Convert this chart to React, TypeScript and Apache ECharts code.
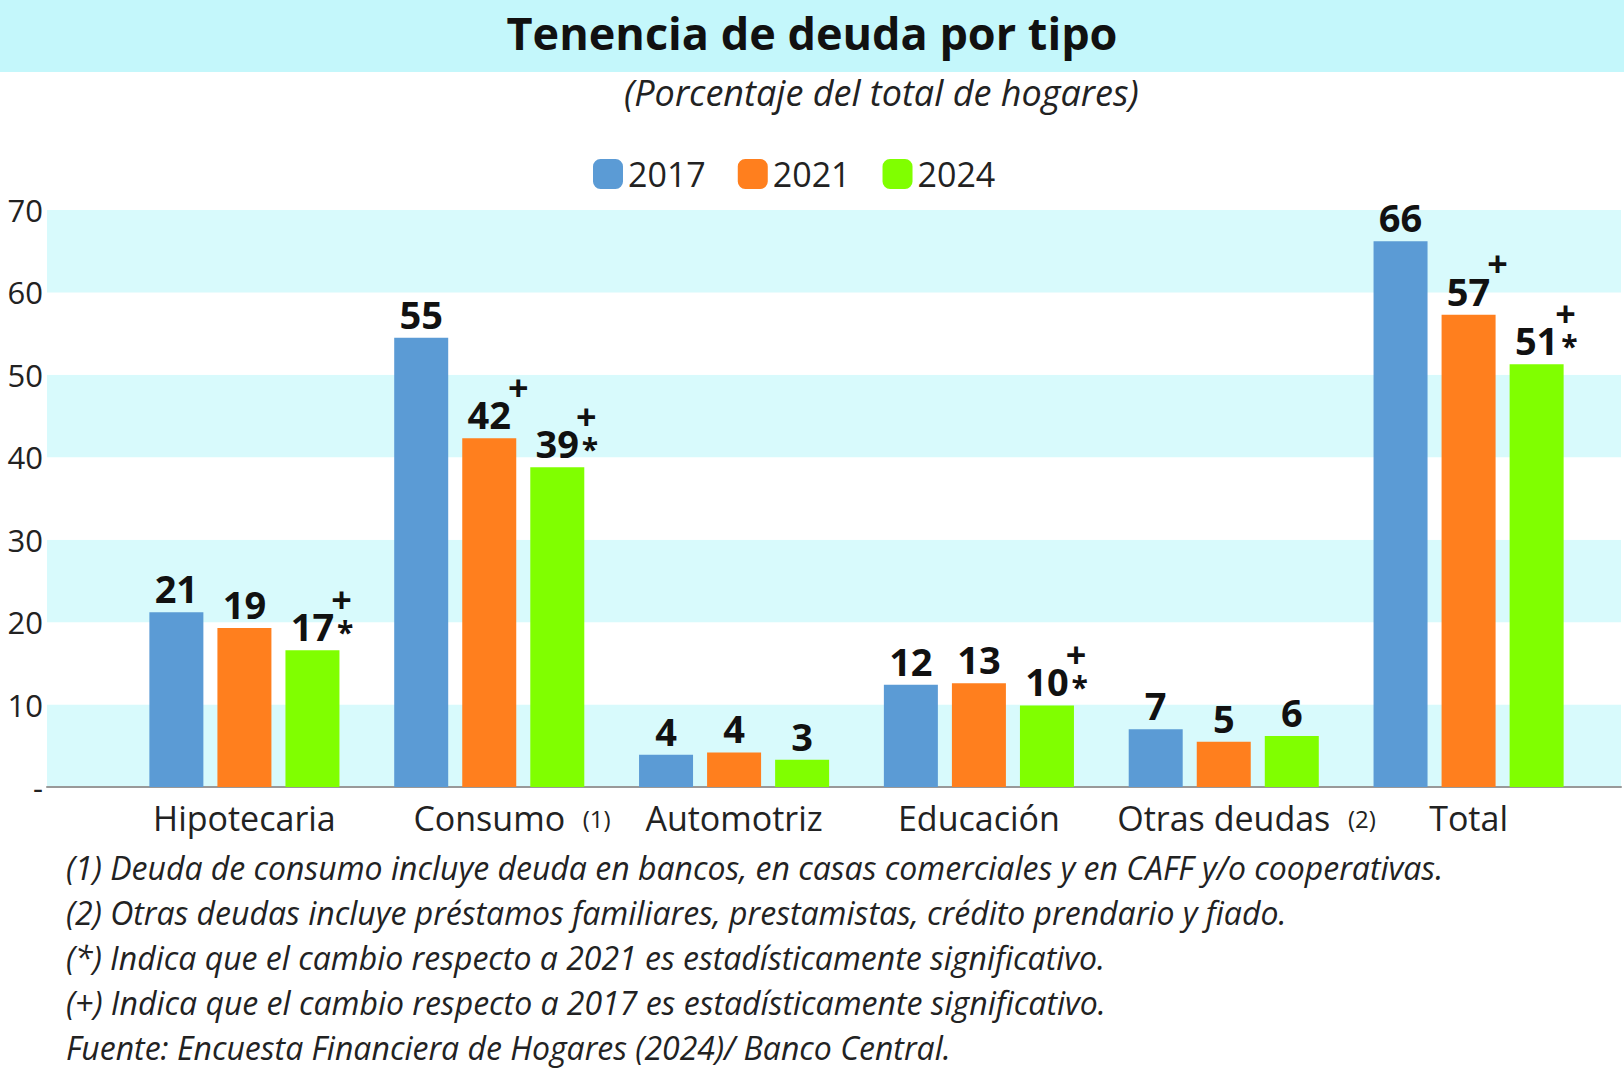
import { useEffect, useRef } from "react";
import * as echarts from "echarts";

const categories = ["Hipotecaria", "Consumo", "Automotriz", "Educación", "Otras deudas", "Total"];
const catNotes = ["", "(1)", "", "", "(2)", ""];
const years = ["2017", "2021", "2024"];
const colors = ["#5b9bd5", "#ff7f1e", "#80ff00"];
const values = [
  [21.2, 54.5, 3.9, 12.4, 7.0, 66.2],
  [19.3, 42.3, 4.2, 12.6, 5.5, 57.3],
  [16.6, 38.8, 3.3, 9.9, 6.2, 51.3],
];
const shown = [
  [21, 55, 4, 12, 7, 66],
  [19, 42, 4, 13, 5, 57],
  [17, 39, 3, 10, 6, 51],
];
// "+" = significant vs 2017, "*" = significant vs 2021
const marks = [
  ["", "", "", "", "", ""],
  ["", "+", "", "", "", "+"],
  ["+*", "+*", "", "+*", "", "+*"],
];
const footnotes = [
  "(1) Deuda de consumo incluye deuda en bancos, en casas comerciales y en CAFF y/o cooperativas.",
  "(2) Otras deudas incluye préstamos familiares, prestamistas, crédito prendario y fiado.",
  "(*) Indica que el cambio respecto a 2021 es estadísticamente significativo.",
  "(+) Indica que el cambio respecto a 2017 es estadísticamente significativo.",
  "Fuente: Encuesta Financiera de Hogares (2024)/ Banco Central.",
];

const FONT = "Open Sans";

function labelText(si: number, i: number) {
  const n = shown[si][i];
  const m = marks[si][i];
  const plus = m.includes("+");
  const star = m.includes("*");
  const line2 = star ? `{nb|${n}}{s|*}` : `{n|${n}}`;
  return plus ? `{q|\u00a0}{p|+}\n${line2}` : line2;
}

const App = () => {
  const ref = useRef<HTMLDivElement>(null);

  useEffect(() => {
    if (!ref.current) return;
    const chart = echarts.init(ref.current, null, { renderer: "svg" });
    const graphics: any[] = [
      { type: "rect", left: 0, top: 0, shape: { width: 1624, height: 72 }, style: { fill: "#c4f7fb" }, z: -1 },
      {
        type: "text", left: "center", top: 10,
        style: { text: "Tenencia de deuda por tipo", font: `bold 45px "${FONT}"`, fill: "#111" },
      },
      {
        type: "text", left: 624, top: 74,
        style: { text: "(Porcentaje del total de hogares)", font: `italic 36px "${FONT}"`, fill: "#222" },
      },
    ];
    footnotes.forEach((t, i) => {
      graphics.push({
        type: "text", left: 66, top: 851 + i * 45,
        style: { text: t, font: `italic 32px "${FONT}"`, fill: "#222" },
      });
    });

    const yCommon = { type: "value", min: 0, max: 70, interval: 10 };

    chart.setOption({
      animation: false,
      textStyle: { fontFamily: FONT },
      graphic: graphics,
      legend: {
        top: 152, left: 588, itemWidth: 30, itemHeight: 30, itemGap: 32,
        textStyle: { fontSize: 34, color: "#222" },
        data: years,
      },
      grid: [
        { left: 47, right: 3, top: 210, bottom: 291 },
        { left: 122, right: 33, top: 210, bottom: 291 },
      ],
      xAxis: [
        {
          gridIndex: 0, type: "category", data: categories, show: true,
          axisTick: { show: false }, axisLabel: { show: false },
          axisLine: { lineStyle: { color: "#999", width: 2 } },
        },
        {
          gridIndex: 1, type: "category", data: categories,
          axisTick: { show: false },
          axisLine: { show: false },
          axisLabel: {
            interval: 0, margin: 14, color: "#222", fontSize: 34,
            formatter: (v: string, i: number) =>
              catNotes[i] ? `{h|${catNotes[i]}}  ${v}  {s|${catNotes[i]}}` : v,
            rich: {
              h: { fontSize: 24, color: "rgba(0,0,0,0)" },
              s: { fontSize: 24, color: "#222" },
            },
          },
        },
      ],
      yAxis: [
        {
          ...yCommon, gridIndex: 0,
          splitLine: { show: false },
          splitArea: { show: true, areaStyle: { color: ["#d8fafc", "#ffffff"] } },
          axisLabel: {
            color: "#222", fontSize: 31, margin: 4,
            formatter: (v: number) => (v === 0 ? "-" : String(v)),
          },
        },
        { ...yCommon, gridIndex: 1, show: false, splitLine: { show: false } },
      ],
      series: years.map((y, si) => ({
        name: y,
        type: "bar",
        xAxisIndex: 1,
        yAxisIndex: 1,
        barWidth: 54,
        barGap: "26%",
        itemStyle: { color: colors[si] },
        data: values[si],
        label: {
          show: true, position: "top", distance: 4, color: "#111",
          formatter: (p: any) => labelText(si, p.dataIndex),
          rich: {
            n: { fontSize: 38, fontWeight: "bold", lineHeight: 40, color: "#111" },
            nb: { fontSize: 38, fontWeight: "bold", lineHeight: 40, color: "#111", padding: [0, 2, 0, 20] },
            s: { fontSize: 30, fontWeight: "bold", width: 18, lineHeight: 40, verticalAlign: "bottom", padding: [18, 0, 0, 0], color: "#111" },
            q: { width: 58, fontSize: 30, lineHeight: 14 },
            p: { fontSize: 36, fontWeight: "bold", lineHeight: 14, color: "#111" },
          },
        },
      })),
    });
    return () => chart.dispose();
  }, []);

  return <div ref={ref} style={{ position: "fixed", left: 0, top: 0, width: 1624, height: 1078, background: "#fff" }} />;
};

export default App;
